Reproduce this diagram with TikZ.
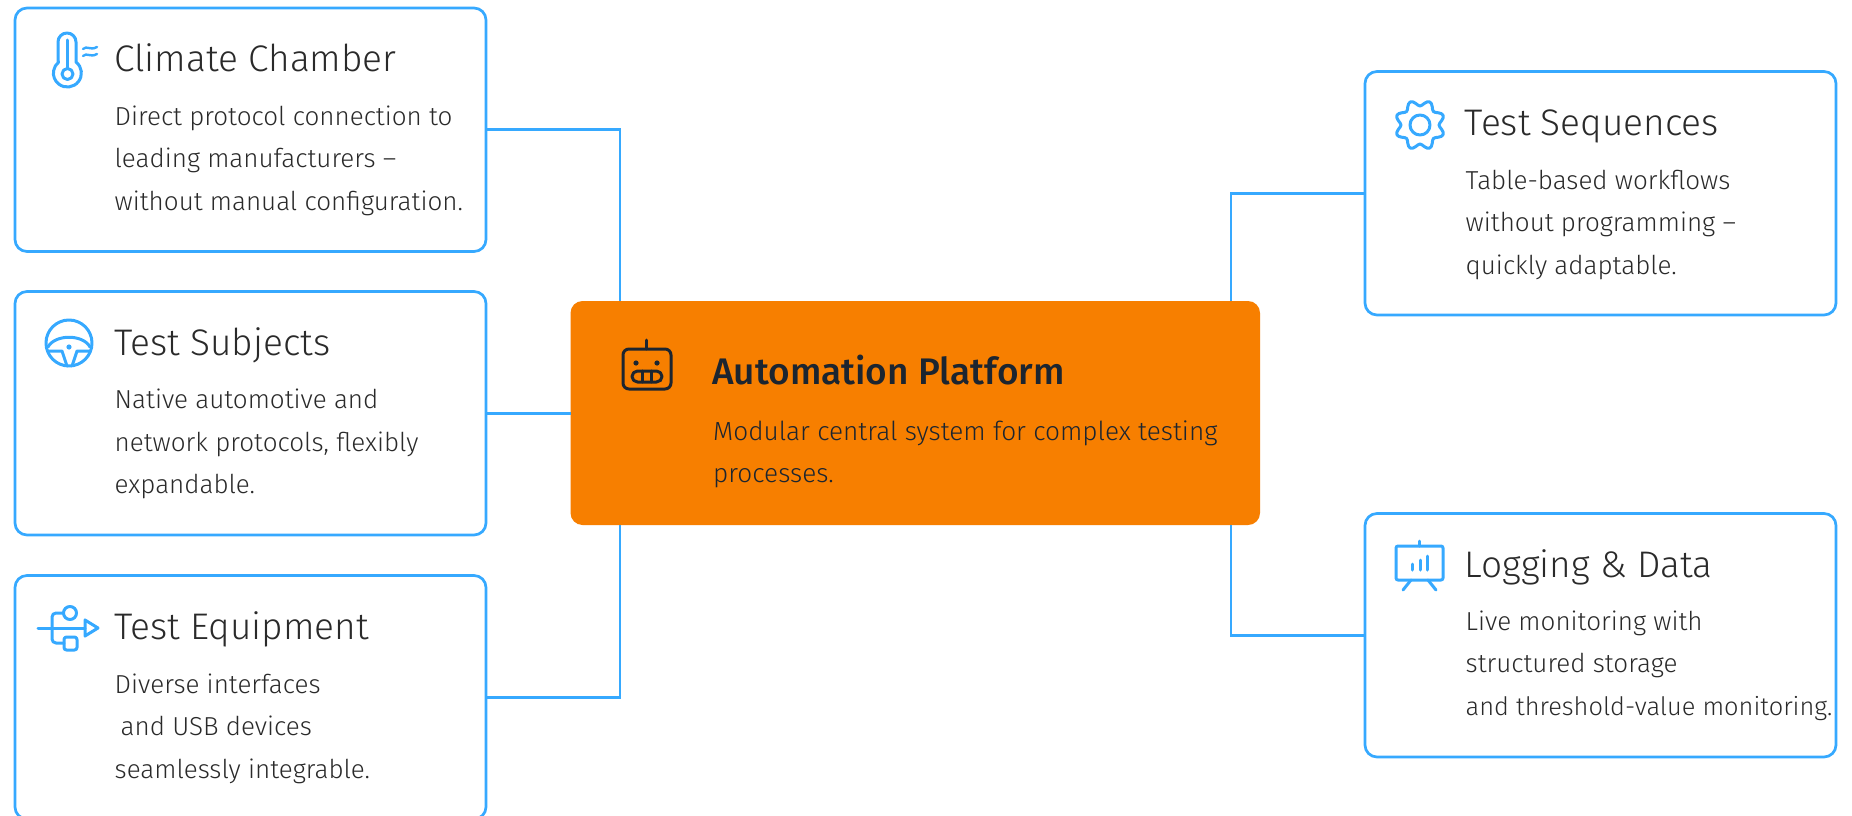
\documentclass[tikz,border=0pt]{standalone}
\usepackage{fontspec}
\setmainfont{Fira Sans Light}
\newfontfamily\medfont{Fira Sans Medium}
\definecolor{ablue}{HTML}{36A9FF}
\definecolor{aorange}{HTML}{F77F00}
\definecolor{adark}{HTML}{2A2A2A}
\definecolor{rdark}{HTML}{1C2530}
\tikzset{
  x=1pt,y=-1pt,
  card/.style={draw=ablue,line width=2.7pt,rounded corners=12pt,fill=white,minimum width=471pt,minimum height=243.5pt,anchor=north west,inner sep=0pt,outer sep=0pt},
  centre/.style={fill=aorange,rounded corners=12pt,minimum width=689.5pt,minimum height=224pt,anchor=north west,inner sep=0pt,outer sep=0pt},
  link/.style={draw=ablue,line width=2.6pt},
  ico/.style={draw=ablue,line width=3pt,line cap=round,line join=round},
  rob/.style={draw=rdark,line width=3pt,line cap=round,line join=round},
  cardtitle/.style={anchor=base west,inner sep=0pt,text=adark,font=\fontsize{37}{37}\selectfont},
  cardbody/.style={anchor=base west,inner sep=0pt,text=adark,align=left,font=\fontsize{26}{42.5}\selectfont},
  maintitle/.style={anchor=base west,inner sep=0pt,text=rdark,font=\fontsize{37}{37}\selectfont\medfont},
  mainbody/.style={anchor=base west,inner sep=0pt,text=rdark,align=left,font=\fontsize{26.2}{42.5}\selectfont},
}
\begin{document}
\begin{tikzpicture}
\useasboundingbox (0,0) rectangle (1852,816);
\fill[white] (0,0) rectangle (1852,816);
% cards
\node[card] (c1) at (15,8) {};
\node[card] (c2) at (15,291.5) {};
\node[card] (c3) at (15,575.5) {};
\node[card] (r1) at (1365,71.5) {};
\node[card] (r2) at (1365,513.5) {};
\node[centre] (hub) at (570.5,301) {};
% connectors
\coordinate (hubTL) at (620,301);
\coordinate (hubBL) at (620,525);
\coordinate (hubTR) at (1231,301);
\coordinate (hubBR) at (1231,525);
\draw[link] (c1.east) -| (hubTL);
\draw[link] (c2.east) -- (c2.east -| hub.west);
\draw[link] (c3.east) -| (hubBL);
\draw[link] (r1.west) -| (hubTR);
\draw[link] (r2.west) -| (hubBR);
% texts
\node[cardtitle] (t1) at (114,71) {Climate Chamber};
\node[cardbody] (b1) at (114.5,210) {Direct protocol connection to\\leading manufacturers –\\without manual configuration.};
\node[cardtitle] (t2) at (114,355) {Test Subjects};
\node[cardbody] (b2) at (114.5,493.5) {Native automotive and\\network protocols, flexibly\\expandable.};
\node[cardtitle] (t3) at (114,639) {Test Equipment};
\node[cardbody] (b3) at (114.5,778) {Diverse interfaces\\\hspace*{6pt}and USB devices\\seamlessly integrable.};
\node[cardtitle] (t4) at (1464.5,135) {Test Sequences};
\node[cardbody] (b4) at (1465.5,274) {Table-based workflows\\without programming –\\quickly adaptable.};
\node[cardtitle] (t5) at (1464.5,577) {Logging \& Data};
\node[cardbody] (b5) at (1465.5,715) {Live monitoring with\\structured storage\\{\fontsize{25.4}{42.5}\selectfont and threshold-value monitoring.}};
\node[maintitle] (mt) at (712,384) {Automation Platform};
\node[mainbody] (mb) at (713,482.5) {Modular central system for complex testing\\processes.};
% thermometer
\draw[ico] (58,62) -- (58,42) arc[start angle=180,end angle=360,radius=9] -- (76,62)
  arc[start angle=308,end angle=592,radius=14] ;
\draw[ico] (67,40) -- (67,68);
\draw[ico] (67.5,74) circle[radius=5.5];
\draw[ico,line width=2.4pt] (83,49) .. controls (87,45) and (90,51) .. (97,47);
\draw[ico,line width=2.4pt] (83,56) .. controls (87,52) and (90,58) .. (97,54);
% wheel
\draw[ico] (69,343) circle[radius=23];
\draw[ico] (48,347) .. controls (55,334) and (83,334) .. (90,347);
\draw[ico] (49,351) -- (62,351) -- (67,366);
\draw[ico] (89,351) -- (77,351) -- (72,366);
\fill[ablue] (69,347) circle[radius=2.6];
% usb
\draw[ico] (38,628) -- (85,628);
\draw[ico] (85,620) -- (98,628) -- (85,636) -- cycle;
\draw[ico,rounded corners=4pt] (63,613) -- (52,613) -- (52,643) -- (64,643);
\draw[ico] (70,613) circle[radius=6.5];
\draw[ico,rounded corners=2.5pt] (64,637) rectangle (77,650);
% robot
\draw[rob,rounded corners=6pt] (623,349) rectangle (671,389);
\draw[rob] (646,340) -- (646,349);
\fill[rdark] (636,363) circle[radius=2.6] (657,363) circle[radius=2.6];
\draw[rob,rounded corners=5.5pt] (632,371) rectangle (662,382);
\draw[rob] (642,371) -- (642,382) (651,371) -- (651,382);
% gear
\draw[ico] plot[smooth cycle,samples=64,domain=0:354.375,variable=\a] ({1420+(22-3*cos(8*\a))*cos(\a)},{125+(22-3*cos(8*\a))*sin(\a)});
\draw[ico] (1420,125) circle[radius=10];
% board
\draw[ico,rounded corners=2pt] (1396,546) rectangle (1443,580);
\draw[ico] (1419,541) -- (1419,546);
\draw[ico] (1411,580) -- (1403,590) (1428,580) -- (1436,590);
\draw[ico] (1412,564) -- (1412,570) (1420,560) -- (1420,570) (1427,556) -- (1427,570);
\end{tikzpicture}
\end{document}
